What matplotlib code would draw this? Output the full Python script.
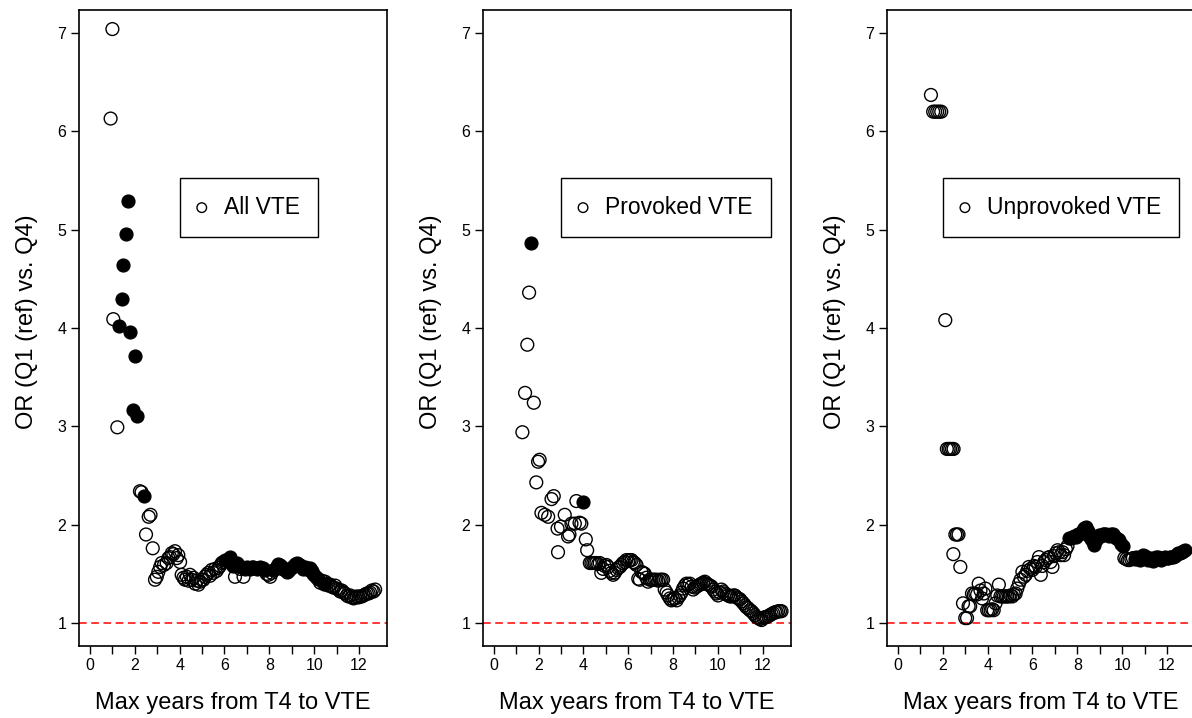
import matplotlib
matplotlib.use('Agg')
import matplotlib.pyplot as plt

plt.rcParams['font.family'] = ['Liberation Sans', 'DejaVu Sans']

# ==================== DATA ====================
# All VTE: max years, OR, filled (1 = significant)
x_all = [0.92, 1.00, 1.04, 1.22, 1.31, 1.41, 1.49, 1.61, 1.71, 1.79, 1.90, 2.01, 2.11,
         2.23, 2.30, 2.41, 2.50, 2.62, 2.70, 2.80, 2.90, 2.98, 3.05, 3.13, 3.20, 3.30,
         3.42, 3.50, 3.57, 3.65, 3.72, 3.79, 3.87, 3.94, 4.02, 4.09, 4.17, 4.24, 4.32,
         4.40, 4.46, 4.54, 4.62, 4.69, 4.77, 4.84, 4.92, 4.98, 5.06, 5.13, 5.20, 5.28,
         5.35, 5.43, 5.50, 5.58, 5.65, 5.73, 5.80, 5.88, 5.95, 6.03, 6.10, 6.18, 6.25,
         6.33, 6.40, 6.47, 6.55, 6.62, 6.70, 6.77, 6.85, 6.92, 7.00, 7.08, 7.15, 7.22,
         7.29, 7.37, 7.44, 7.52, 7.59, 7.66, 7.74, 7.81, 7.88, 7.96, 8.04, 8.11, 8.18,
         8.26, 8.33, 8.40, 8.48, 8.55, 8.62, 8.70, 8.78, 8.85, 8.92, 9.00, 9.08, 9.15,
         9.22, 9.30, 9.38, 9.45, 9.52, 9.60, 9.67, 9.75, 9.82, 9.90, 9.97, 10.05, 10.12,
         10.19, 10.27, 10.34, 10.42, 10.49, 10.56, 10.64, 10.71, 10.79, 10.86, 10.94,
         11.01, 11.09, 11.16, 11.24, 11.31, 11.38, 11.46, 11.53, 11.61, 11.68, 11.76,
         11.83, 11.90, 11.98, 12.05, 12.13, 12.20, 12.28, 12.35, 12.43, 12.50, 12.57,
         12.65, 12.72]
or_all = [6.13, 7.04, 4.09, 2.99, 4.02, 4.29, 4.64, 4.96, 5.29, 3.96, 3.17, 3.72, 3.11,
          2.34, 2.33, 2.29, 1.90, 2.08, 2.10, 1.76, 1.44, 1.47, 1.52, 1.57, 1.61, 1.59,
          1.61, 1.66, 1.67, 1.71, 1.70, 1.73, 1.66, 1.69, 1.62, 1.49, 1.46, 1.44, 1.47,
          1.43, 1.49, 1.44, 1.46, 1.40, 1.43, 1.39, 1.42, 1.44, 1.44, 1.47, 1.49, 1.51,
          1.48, 1.54, 1.51, 1.55, 1.53, 1.56, 1.58, 1.61, 1.62, 1.64, 1.63, 1.65, 1.67,
          1.62, 1.58, 1.47, 1.61, 1.58, 1.55, 1.57, 1.47, 1.55, 1.57, 1.56, 1.55, 1.57,
          1.57, 1.56, 1.55, 1.56, 1.57, 1.55, 1.56, 1.54, 1.50, 1.49, 1.47, 1.51, 1.54,
          1.55, 1.58, 1.60, 1.59, 1.57, 1.55, 1.54, 1.52, 1.53, 1.55, 1.57, 1.58, 1.60,
          1.61, 1.60, 1.59, 1.57, 1.55, 1.57, 1.56, 1.54, 1.56, 1.53, 1.50, 1.48, 1.46,
          1.45, 1.41, 1.43, 1.40, 1.42, 1.40, 1.38, 1.39, 1.37, 1.36, 1.38,
          1.35, 1.34, 1.32, 1.33, 1.31, 1.30, 1.28, 1.27, 1.28, 1.26, 1.25,
          1.26, 1.27, 1.26, 1.27, 1.27, 1.28, 1.29, 1.30, 1.30, 1.31, 1.33,
          1.32, 1.34]
sig_all = [0, 0, 0, 0, 1, 1, 1, 1, 1, 1, 1, 1, 1,
           0, 0, 1, 0, 0, 0, 0, 0, 0, 0, 0, 0, 0,
           0, 0, 0, 0, 0, 0, 0, 0, 0, 0, 0, 0, 0,
           0, 0, 0, 0, 0, 0, 0, 0, 0, 0, 0, 0, 0,
           0, 0, 0, 0, 0, 0, 0, 0, 0, 1, 1, 1, 1,
           1, 1, 0, 1, 1, 0, 1, 0, 1, 1, 1, 1, 1,
           1, 1, 1, 1, 1, 1, 1, 1, 0, 0, 0, 0, 1,
           1, 1, 1, 1, 1, 1, 1, 1, 1, 1, 1, 1, 1,
           1, 1, 1, 1, 1, 1, 1, 1, 1, 1, 1, 1, 1,
           1, 0, 0, 1, 0, 0, 0, 0, 0, 0, 0,
           0, 0, 0, 0, 0, 0, 0, 0, 0, 0, 0,
           0, 0, 0, 0, 0, 0, 0, 0, 0, 0, 0,
           0, 0]

# Provoked VTE
x_prov = [1.28, 1.40, 1.50, 1.58, 1.65, 1.79, 1.90, 1.98, 2.05, 2.13, 2.28, 2.43, 2.58,
          2.68, 2.85, 2.87, 3.00, 3.17, 3.32, 3.38, 3.47, 3.62, 3.69, 3.83, 3.91, 3.99,
          4.11, 4.17, 4.29, 4.36, 4.44, 4.51, 4.58, 4.66, 4.73, 4.80, 4.88, 4.95, 5.03,
          5.10, 5.18, 5.25, 5.33, 5.40, 5.48, 5.55, 5.63, 5.70, 5.77, 5.85, 5.92, 6.00,
          6.07, 6.15, 6.22, 6.29, 6.37, 6.45, 6.52, 6.59, 6.67, 6.74, 6.81, 6.89, 6.96,
          7.04, 7.11, 7.19, 7.26, 7.34, 7.41, 7.49, 7.56, 7.63, 7.71, 7.78, 7.86, 7.93,
          8.01, 8.08, 8.16, 8.23, 8.30, 8.38, 8.45, 8.53, 8.60, 8.68, 8.75, 8.83, 8.90,
          8.98, 9.05, 9.12, 9.20, 9.27, 9.35, 9.42, 9.50, 9.57, 9.65, 9.72, 9.80, 9.87,
          9.94, 10.01, 10.09, 10.16, 10.24, 10.31, 10.39, 10.46, 10.54, 10.61, 10.69,
          10.76, 10.84, 10.91, 10.99, 11.06, 11.14, 11.21, 11.28, 11.35, 11.43, 11.50,
          11.58, 11.65, 11.73, 11.80, 11.88, 11.95, 12.03, 12.10, 12.17, 12.25, 12.32,
          12.40, 12.47, 12.55, 12.62, 12.69, 12.77, 12.84]
or_prov = [2.94, 3.34, 3.83, 4.36, 4.86, 3.24, 2.43, 2.64, 2.66, 2.12, 2.10, 2.08, 2.26,
           2.29, 1.96, 1.72, 1.98, 2.10, 1.88, 1.90, 2.01, 2.01, 2.24, 2.02, 2.01, 2.23,
           1.85, 1.74, 1.61, 1.61, 1.61, 1.61, 1.61, 1.60, 1.61, 1.51, 1.55, 1.58, 1.59,
           1.57, 1.53, 1.51, 1.49, 1.51, 1.54, 1.56, 1.57, 1.59, 1.61, 1.62, 1.64, 1.63,
           1.64, 1.64, 1.62, 1.61, 1.59, 1.45, 1.44, 1.52, 1.51, 1.50, 1.46, 1.42, 1.44,
           1.44, 1.44, 1.44, 1.44, 1.43, 1.44, 1.44, 1.44, 1.34, 1.31, 1.28, 1.25, 1.23,
           1.24, 1.25, 1.23, 1.26, 1.28, 1.31, 1.35, 1.38, 1.40, 1.39, 1.40, 1.37, 1.34,
           1.36, 1.37, 1.38, 1.39, 1.40, 1.41, 1.42, 1.40, 1.39, 1.38, 1.37, 1.34, 1.32,
           1.30, 1.28, 1.31, 1.34, 1.32, 1.30, 1.29, 1.28, 1.27, 1.27, 1.28,
           1.28, 1.26, 1.25, 1.24, 1.22, 1.20, 1.18, 1.16, 1.15, 1.13, 1.12,
           1.10, 1.08, 1.06, 1.05, 1.04, 1.03, 1.05, 1.06, 1.06, 1.07, 1.08,
           1.09, 1.10, 1.11, 1.11, 1.12, 1.12, 1.12]
sig_prov = [0] * 4 + [1] + [0] * 20 + [1] + [0] * 120

# Unprovoked VTE
x_unprov = [1.47, 1.57, 1.66, 1.75, 1.84, 1.93, 2.11, 2.18, 2.26, 2.33, 2.41, 2.48, 2.47,
            2.56, 2.63, 2.70, 2.78, 2.90, 3.00, 3.08, 3.15, 3.22, 3.30, 3.38, 3.45, 3.53,
            3.60, 3.68, 3.75, 3.83, 3.90, 3.98, 4.05, 4.13, 4.20, 4.27, 4.35, 4.43, 4.50,
            4.57, 4.65, 4.72, 4.80, 4.87, 4.95, 5.02, 5.10, 5.17, 5.25, 5.32, 5.40, 5.47,
            5.55, 5.62, 5.70, 5.77, 5.84, 5.92, 6.00, 6.07, 6.14, 6.22, 6.29, 6.37, 6.44,
            6.52, 6.59, 6.67, 6.74, 6.81, 6.89, 6.96, 7.04, 7.12, 7.19, 7.26, 7.34, 7.41,
            7.49, 7.56, 7.64, 7.71, 7.79, 7.86, 7.94, 8.01, 8.09, 8.16, 8.24, 8.31, 8.39,
            8.46, 8.54, 8.61, 8.68, 8.76, 8.84, 8.91, 8.98, 9.06, 9.13, 9.21, 9.28, 9.36,
            9.43, 9.51, 9.58, 9.66, 9.73, 9.81, 9.88, 9.96, 10.03, 10.10, 10.18, 10.26,
            10.33, 10.41, 10.48, 10.56, 10.63, 10.71, 10.78, 10.86, 10.93, 11.00, 11.08,
            11.15, 11.23, 11.30, 11.38, 11.45, 11.53, 11.60, 11.68, 11.75, 11.83, 11.90,
            11.98, 12.05, 12.13, 12.20, 12.28, 12.35, 12.43, 12.50, 12.58, 12.65, 12.73,
            12.80]
or_unprov = [6.37, 6.20, 6.20, 6.20, 6.20, 6.20, 4.08, 2.77, 2.77, 2.77, 2.77, 2.77, 1.70,
             1.90, 1.90, 1.90, 1.57, 1.20, 1.05, 1.05, 1.17, 1.17, 1.30, 1.29, 1.30, 1.29,
             1.40, 1.33, 1.25, 1.30, 1.35, 1.13, 1.13, 1.13, 1.14, 1.13, 1.20, 1.28, 1.39,
             1.27, 1.27, 1.27, 1.27, 1.27, 1.27, 1.28, 1.27, 1.29, 1.30, 1.35, 1.40, 1.44,
             1.52, 1.47, 1.49, 1.53, 1.57, 1.55, 1.54, 1.58, 1.57, 1.62, 1.67, 1.49, 1.58,
             1.62, 1.64, 1.66, 1.67, 1.62, 1.57, 1.68, 1.71, 1.74, 1.72, 1.69, 1.72, 1.69,
             1.75, 1.78, 1.86, 1.86, 1.87, 1.88, 1.87, 1.91, 1.90, 1.92, 1.95, 1.97, 1.98,
             1.94, 1.88, 1.85, 1.82, 1.79, 1.84, 1.87, 1.89, 1.88, 1.90, 1.91, 1.91, 1.89,
             1.88, 1.90, 1.90, 1.87, 1.86, 1.85, 1.84, 1.80, 1.78, 1.66, 1.65, 1.64,
             1.64, 1.65, 1.66, 1.65, 1.67, 1.66, 1.64, 1.67, 1.69, 1.68, 1.66,
             1.64, 1.65, 1.66, 1.63, 1.65, 1.67, 1.67, 1.66, 1.64, 1.66, 1.67,
             1.66, 1.66, 1.67, 1.67, 1.67, 1.68, 1.70, 1.71, 1.71, 1.72, 1.73,
             1.74]
sig_unprov = [0] * 80 + [1] * 33 + [0] * 6 + [1] * 36

panels = [
    ('All VTE', x_all, or_all, sig_all, 4.0),
    ('Provoked VTE', x_prov, or_prov, sig_prov, 3.0),
    ('Unprovoked VTE', x_unprov, or_unprov, sig_unprov, 2.0),
]

# ==================== PLOTTING ====================
fig = plt.figure(figsize=(11.92, 7.18), dpi=100)
lefts = [79 / 1192, 482.7 / 1192, 887 / 1192]

for (label, xs, ys, sig, leg_x), left in zip(panels, lefts):
    ax = fig.add_axes([left, 72 / 718, 308 / 1192, 636 / 718])

    xo = [x for x, s in zip(xs, sig) if not s]
    yo = [y for y, s in zip(ys, sig) if not s]
    xf = [x for x, s in zip(xs, sig) if s]
    yf = [y for y, s in zip(ys, sig) if s]
    ax.scatter(xo, yo, s=85, facecolors='none', edgecolors='black', linewidths=1.0,
               label=label, zorder=3)
    ax.scatter(xf, yf, s=85, facecolors='black', edgecolors='black', linewidths=1.0,
               zorder=3)

    ax.axhline(1, color='red', linestyle=(0, (5, 3)), linewidth=1.1, zorder=2)

    ax.set_xlim(-0.49, 13.25)
    ax.set_ylim(0.766, 7.234)
    ax.set_xticks(range(0, 13))
    ax.set_xticklabels([str(i) if i % 2 == 0 else '' for i in range(0, 13)])
    ax.set_yticks(range(1, 8))
    ax.tick_params(direction='out', length=6, width=1.0, labelsize=11.5, pad=3)
    for sp in ax.spines.values():
        sp.set_linewidth(1.2)

    ax.set_xlabel('Max years from T4 to VTE', fontsize=17, labelpad=13)
    ax.set_ylabel('OR (Q1 (ref) vs. Q4)', fontsize=17)
    ax.yaxis.set_label_coords(-0.133, 0.51)

    leg = ax.legend(loc='upper left', bbox_to_anchor=(leg_x, 5.53),
                    bbox_transform=ax.transData, borderaxespad=0,
                    fancybox=False, framealpha=1, edgecolor='black',
                    fontsize=16.5, markerscale=0.75, handletextpad=0.79,
                    borderpad=0.79, handlelength=0.35)
    leg.get_frame().set_linewidth(1.0)

plt.savefig('out.png', dpi=100)
